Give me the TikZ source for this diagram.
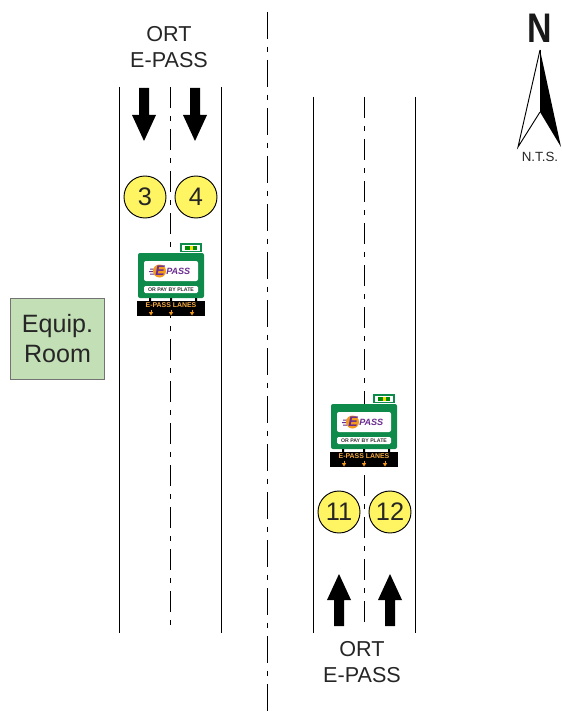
\documentclass[tikz,border=0pt]{standalone}
\usepackage{fontspec}
\setmainfont{Liberation Sans}
\definecolor{signgreen}{HTML}{0E8A4A}
\definecolor{circyellow}{HTML}{FFF462}
\definecolor{roomgreen}{HTML}{C3DFB5}
\definecolor{logopurple}{HTML}{6A2C91}
\definecolor{logoorange}{HTML}{F39A1E}
\tikzset{
  roadline/.style={draw=black,line width=0.6pt},
  laneline/.style={draw=black,line width=0.55pt,dash pattern=on 16pt off 6pt on 3.5pt off 6pt},
  medianline/.style={draw=black,line width=0.55pt,dash pattern=on 20pt off 6pt on 4pt off 6pt},
  dirarrow/.style={fill=black,draw=none},
  lanecirc/.style={circle,draw=black,line width=0.7pt,fill=circyellow,minimum size=31.5pt,inner sep=0pt,font=\fontsize{19}{20}\selectfont,text=black!85},
  lbl/.style={font=\fontsize{16.2}{19.5}\selectfont,align=center,text=black!85,inner sep=0pt},
}
\newcommand{\ortsign}[3]{% #1 x, #2 y, #3 name prefix
\begin{scope}[shift={(#1,#2)}]
  \fill[signgreen] (42,-10) rectangle (64,-1);
  \fill[white] (44,-8.5) rectangle (62,-2.5);
  \fill[green!55!black] (47,-7.5) rectangle (52,-3.5);
  \fill[yellow!80!orange] (52,-7.5) rectangle (55,-3.5);
  \fill[green!55!black] (55,-7.5) rectangle (59,-3.5);
  \fill[signgreen,rounded corners=1.5pt] (0,0) rectangle (66,45);
  \fill[white,rounded corners=1.5pt] (6,8) rectangle (60,28);
  \fill[white,rounded corners=1pt] (6,33) rectangle (60,40);
  \fill[logopurple] (12,15.5) rectangle (22,16.5) (11,18) rectangle (22,19) (12,20.5) rectangle (22,21.5);
  \fill[logoorange] (21.5,18) circle (6.5);
  \node[inner sep=0pt,text=logopurple] (#3logoe) at (22,18) {\fontsize{10.5}{11}\selectfont\bfseries\itshape E};
  \node[inner sep=0pt,text=logopurple,anchor=west] (#3logo) at (28,18.5) {\fontsize{6.8}{8}\selectfont\bfseries\itshape PASS};
  \node[inner sep=0pt,text=black!80] (#3plate) at (33,36.5) {\fontsize{3.9}{4}\selectfont\bfseries OR PAY BY PLATE};
  \fill[black] (11,45) rectangle (13,48) (32,45) rectangle (34,48) (57,45) rectangle (59,48);
  \fill[black] (-1,48) rectangle (67,63);
  \node[inner sep=0pt,text=logoorange!85!white] (#3lanes) at (33,52.5) {\fontsize{5.2}{6}\selectfont\bfseries E-PASS LANES};
  \foreach \ax in {13,33,54}{
    \draw[logoorange,line width=0.6pt] (\ax,56.5) -- (\ax,60);
    \fill[logoorange] (\ax-2.2,59) -- (\ax+2.2,59) -- (\ax,62.5) -- cycle;
  }
\end{scope}}
\begin{document}
\begin{tikzpicture}[x=0.75pt,y=-0.75pt]
\useasboundingbox (0,0) rectangle (561,713);
% centre line
\draw[medianline] (267,12) -- (267,713);
% left road
\draw[roadline] (119,87) -- (119,633);
\draw[roadline] (221,87) -- (221,633);
\draw[laneline] (170,87) -- (170,625);
% right road
\draw[roadline] (313,97) -- (313,633);
\draw[roadline] (415,97) -- (415,633);
\draw[laneline] (364,97) -- (364,625);
% arrows
\foreach \ax in {144,195}{
  \fill[dirarrow] (\ax-5,88) -- (\ax+5,88) -- (\ax+5,115) -- (\ax+12,115) -- (\ax,141) -- (\ax-12,115) -- (\ax-5,115) -- cycle;
}
\foreach \ax in {339,390}{
  \fill[dirarrow] (\ax-5,626) -- (\ax+5,626) -- (\ax+5,600) -- (\ax+12,600) -- (\ax,574) -- (\ax-12,600) -- (\ax-5,600) -- cycle;
}
% signs
\ortsign{138}{253}{a}
\ortsign{331}{404}{b}
% circles
\node[lanecirc] (c3) at (145,197) {3};
\node[lanecirc] (c4) at (196,197) {4};
\node[lanecirc] (c11) at (339,512) {11};
\node[lanecirc] (c12) at (390,512) {12};
% labels
\node[lbl] (ort1) at (169,47) {ORT\\E-PASS};
\node[lbl] (ort2) at (362,662) {ORT\\E-PASS};
\node[draw=black!55,line width=0.6pt,fill=roomgreen,minimum width=71pt,minimum height=60.5pt,inner sep=0pt,align=center,text=black!85,font=\fontsize{18.8}{22.5}\selectfont] (room) at (57.5,339) {Equip.\\Room};
% north
\node[inner sep=0pt,font=\fontsize{31}{31}\selectfont\bfseries,text=black!90] (north) at (540,28.5) {\scalebox{0.82}[1]{N}};
\node[inner sep=0pt,font=\fontsize{10}{10}\selectfont,text=black!85] (nts) at (540,157) {N.T.S.};
\fill[black] (540,50) -- (561,147) -- (540,112) -- cycle;
\draw[black,line width=0.7pt,line join=miter] (540,50) -- (518,147) -- (540,112);
\draw[black,line width=0.5pt] (540,50) -- (540,112);
\end{tikzpicture}
\end{document}
